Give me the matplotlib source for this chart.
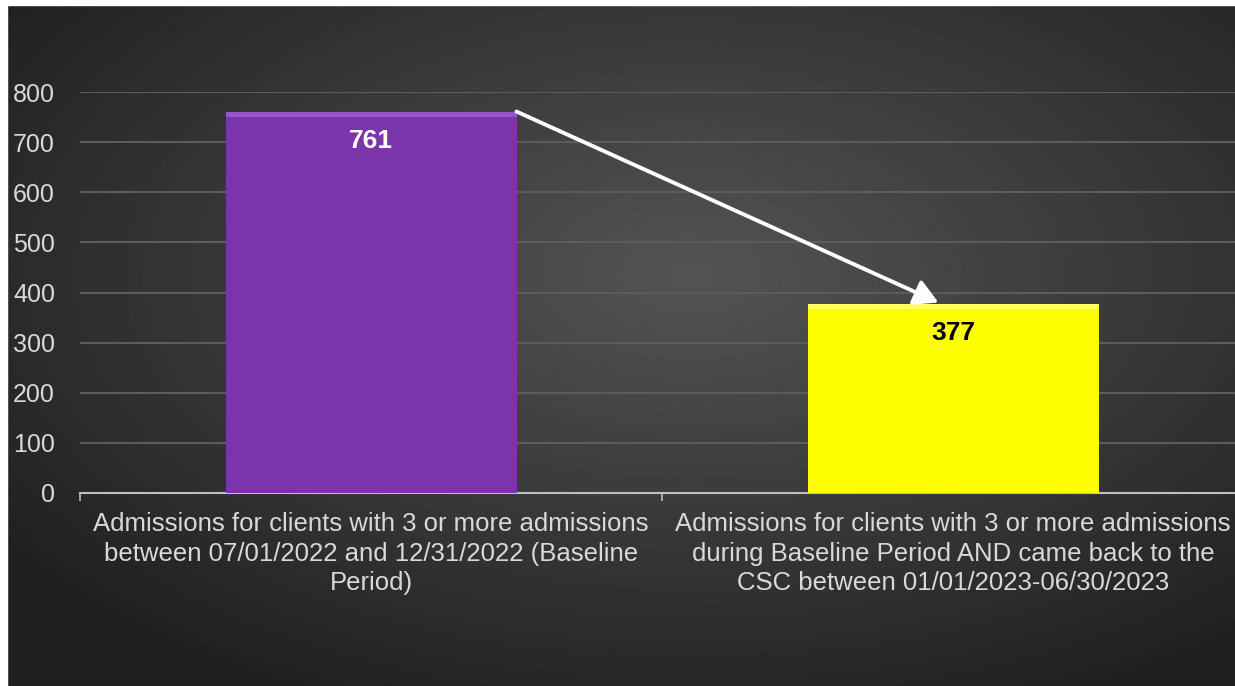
import numpy as np
import matplotlib.pyplot as plt
from matplotlib.patches import FancyArrowPatch, Rectangle

# data
categories = ['Admissions for clients with 3 or more admissions\nbetween 07/01/2022 and 12/31/2022 (Baseline\nPeriod)',
              'Admissions for clients with 3 or more admissions\nduring Baseline Period AND came back to the\nCSC between 01/01/2023-06/30/2023']
values = [761, 377]
bar_colors = ['#7a35aa', '#ffff00']
label_colors = ['white', 'black']
yticks = [0, 100, 200, 300, 400, 500, 600, 700, 800]

plt.rcParams['font.family'] = ['Liberation Sans', 'DejaVu Sans']

W, H = 1235, 686
fig = plt.figure(figsize=(W / 100, H / 100), dpi=100)
fig.patch.set_facecolor('#2a2a2a')

# radial gradient background
bg = fig.add_axes([0, 0, 1, 1])
yy, xx = np.mgrid[0:1:400j, 0:1:700j]
r = np.sqrt(((xx - 0.56) / 0.75) ** 2 + ((yy - 0.6) / 0.75) ** 2)
shade = np.clip(0.33 - 0.22 * r, 0.13, 0.33)
bg.imshow(shade, cmap='gray', vmin=0, vmax=1, aspect='auto',
          extent=[0, 1, 0, 1], origin='lower', interpolation='bilinear')
bg.set_xlim(0, 1)
bg.set_ylim(0, 1)
bg.axis('off')
# white border on top and left edges
fig.patches.append(Rectangle((0, 1 - 5 / H), 1, 5 / H, transform=fig.transFigure,
                             color='white', zorder=10))
fig.patches.append(Rectangle((0, 0), 7 / W, 1, transform=fig.transFigure,
                             color='white', zorder=10))

ax = fig.add_axes([80 / W, 1 - 493 / H, 1164 / W, 401 / H])
ax.patch.set_alpha(0)

x = np.arange(len(values))
bars = ax.bar(x, values, width=0.5, color=bar_colors, zorder=3)
# bevel on the top of each bar
for b, c in zip(bars, ['#9e5cd6', '#ffff70']):
    ax.bar(b.get_x() + b.get_width() / 2, 10, bottom=b.get_height() - 10,
           width=b.get_width(), color=c, zorder=4, alpha=0.8)

for xi, v, tc in zip(x, values, label_colors):
    ax.text(xi, v - 58, str(v), ha='center', va='center', fontsize=19,
            fontweight='bold', color=tc, zorder=5)

# arrow from top of first bar to top of second
arrow = FancyArrowPatch((0.25, 761), (0.975, 380), arrowstyle='-|>,head_length=9,head_width=5',
                        color='white', lw=2.8, zorder=6, mutation_scale=1.6,
                        shrinkA=0, shrinkB=0)
ax.add_patch(arrow)

ax.set_xlim(-0.5, 1.5)
ax.set_ylim(0, 800)
ax.set_yticks(yticks)
ax.yaxis.grid(True, color='#5c5c5c', lw=1.5, zorder=0)
ax.set_axisbelow(True)
ax.tick_params(axis='y', length=0, labelsize=18, labelcolor='#d9d9d9', pad=18)

ax.set_xticks([-0.5, 0.5, 1.5])
ax.set_xticklabels([])
ax.tick_params(axis='x', length=6, width=1.2, color='#bfbfbf', direction='out')
ax.set_xticks(x, minor=True)
ax.set_xticklabels(categories, minor=True, fontsize=18.5, color='#d9d9d9', linespacing=1.27)
ax.tick_params(axis='x', which='minor', length=0, pad=14)

for s in ['top', 'right', 'left']:
    ax.spines[s].set_visible(False)
ax.spines['bottom'].set_color('#bfbfbf')
ax.spines['bottom'].set_linewidth(1.5)

fig.savefig('out.png', dpi=100)
